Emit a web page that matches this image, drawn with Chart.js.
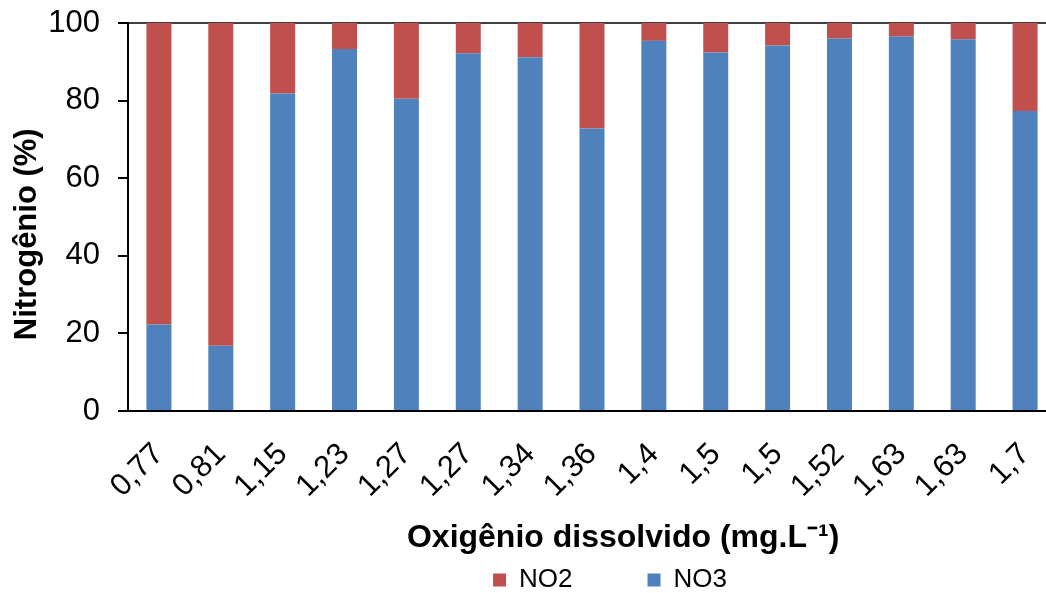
<!DOCTYPE html>
<html lang="pt">
<head>
    <meta charset="UTF-8">
    <title>Nitrogênio x Oxigênio dissolvido</title>
    <script src="https://cdn.jsdelivr.net/npm/chart.js@4.4.0/dist/chart.umd.min.js"></script>
    <style>
        html, body {
            margin: 0;
            padding: 0;
            background: #ffffff;
            overflow: hidden;
            width: 1046px;
            height: 593px;
        }
        #wrap {
            position: absolute;
            left: 0;
            top: 0;
        }
    </style>
</head>
<body>
    <div id="wrap">
        <canvas id="nChart" width="1206" height="603"></canvas>
    </div>

    <script>
        // categories: dissolved oxygen (mg/L)
        const oxygenLabels = ['0,77', '0,81', '1,15', '1,23', '1,27', '1,27', '1,34', '1,36',
                              '1,4', '1,5', '1,5', '1,52', '1,63', '1,63', '1,7'];

        // share of nitrate in the total nitrogen (%)
        const no3Values = [22.3, 16.8, 81.8, 93.3, 80.5, 92.2, 91.2, 72.8,
                           95.4, 92.4, 94.2, 96.0, 96.5, 95.8, 77.3];

        // share of nitrite (%), the rest of each bar
        const no2Values = [77.7, 83.2, 18.2, 6.7, 19.5, 7.8, 8.8, 27.2,
                           4.6, 7.6, 5.8, 4.0, 3.5, 4.2, 22.7];

        const yTicks = [0, 20, 40, 60, 80, 100];

        const FONT = "'Liberation Sans', Arial, sans-serif";
        const NBSP = '\u00a0';

        // legend: empty spacer first, then NO2 and NO3 with a wide gap between them
        const legendLabels = (chart) => {
            const items = Chart.defaults.plugins.legend.labels.generateLabels(chart);
            const no3 = items.find(i => i.text === 'NO3');
            const no2 = items.find(i => i.text === 'NO2');
            no2.text = 'NO2' + NBSP.repeat(9);
            [no2, no3].forEach(i => { i.lineWidth = 0; i.strokeStyle = 'rgba(0,0,0,0)'; });
            const spacer = {
                text: '',
                fillStyle: 'rgba(0,0,0,0)',
                strokeStyle: 'rgba(0,0,0,0)',
                lineWidth: 0,
                hidden: false,
                datasetIndex: -1
            };
            return [spacer, no2, no3];
        };

        const ctx = document.getElementById('nChart').getContext('2d');
        const nChart = new Chart(ctx, {
            type: 'bar',
            data: {
                labels: oxygenLabels,
                datasets: [
                    {
                        label: 'NO3',
                        data: no3Values,
                        backgroundColor: '#4F81BD',
                        barPercentage: 0.404,
                        categoryPercentage: 1.0
                    },
                    {
                        label: 'NO2',
                        data: no2Values,
                        backgroundColor: '#C0504D',
                        barPercentage: 0.404,
                        categoryPercentage: 1.0
                    }
                ]
            },
            options: {
                responsive: false,
                animation: false,
                layout: {
                    padding: { top: 23, right: 150, left: 0, bottom: 0 }
                },
                plugins: {
                    tooltip: { enabled: false },
                    legend: {
                        position: 'bottom',
                        fullSize: false,
                        labels: {
                            boxWidth: 13,
                            boxHeight: 13,
                            padding: 10,
                            color: '#000000',
                            font: { family: FONT, size: 26 },
                            generateLabels: legendLabels
                        }
                    }
                },
                scales: {
                    x: {
                        stacked: true,
                        grid: { display: false, drawTicks: false },
                        border: { display: true, color: '#000000', width: 2 },
                        ticks: {
                            color: '#000000',
                            font: { family: FONT, size: 31 },
                            minRotation: 45,
                            maxRotation: 45,
                            autoSkip: false,
                            padding: 25
                        },
                        title: {
                            display: true,
                            text: NBSP.repeat(7) + 'Oxigênio dissolvido (mg.L⁻¹)',
                            color: '#000000',
                            font: { family: FONT, size: 32, weight: 'bold' },
                            padding: { top: 0, bottom: 0 }
                        },
                        afterFit: (scale) => { scale.height = 146; }
                    },
                    y: {
                        stacked: true,
                        min: 0,
                        max: 100,
                        afterBuildTicks: (scale) => {
                            scale.ticks = yTicks.map(v => ({ value: v }));
                        },
                        grid: {
                            color: (c) => (c.tick && c.tick.value === 100) ? '#404040' : 'rgba(0,0,0,0)',
                            lineWidth: 2,
                            tickColor: '#000000',
                            tickLength: 10,
                            tickWidth: 2
                        },
                        border: { display: true, color: '#000000', width: 2 },
                        ticks: {
                            color: '#000000',
                            // small lineHeight keeps the top label from pushing the plot down
                            font: { family: FONT, size: 31, lineHeight: 0.3 },
                            padding: 18
                        },
                        title: {
                            display: true,
                            text: 'Nitrogênio (%)' + NBSP.repeat(4),
                            color: '#000000',
                            font: { family: FONT, size: 31, weight: 'bold' },
                            padding: { top: 9, bottom: 0 }
                        },
                        afterFit: (scale) => { scale.width = 128; }
                    }
                }
            }
        });
    </script>
</body>
</html>
